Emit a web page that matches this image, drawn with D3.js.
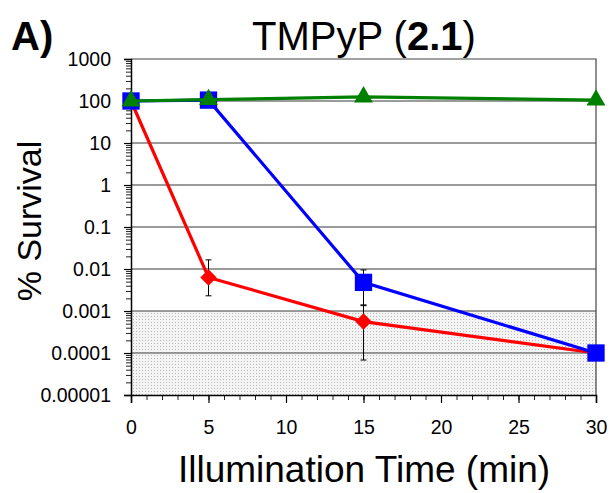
<!DOCTYPE html>
<html>
<head>
<meta charset="utf-8">
<script src="https://cdn.jsdelivr.net/npm/d3@7"></script>
<style>
  body { margin: 0; background: #fff; }
  svg { font-family: "Liberation Sans", Arial, sans-serif; }
</style>
</head>
<body>
<div id="chart"></div>
<script>
// data
let times = [0, 5, 15, 30];
let redValues = [100, 0.0063, 0.00056, 0.0001];
let redErrLow = [null, 0.0023, 0.000068, null];
let redErrHigh = [null, 0.0165, 0.00134, null];
let blueValues = [100, 105, 0.0048, 0.0001];
let blueErrLow = [null, null, 0.0014, null];
let blueErrHigh = [null, null, 0.0095, null];
let greenValues = [100, 108, 125, 105];
let yTickValues = [1000, 100, 10, 1, 0.1, 0.01, 0.001, 0.0001, 0.00001];
let yTickLabels = ['1000', '100', '10', '1', '0.1', '0.01', '0.001', '0.0001', '0.00001'];
let xTickValues = [0, 5, 10, 15, 20, 25, 30];

let width = 612, height = 493;
let plotLeft = 131, plotRight = 596, plotTop = 59, plotBottom = 395;

let svg = d3.select('#chart').append('svg')
    .attr('width', width)
    .attr('height', height);

let x = d3.scaleLinear().domain([0, 30]).range([plotLeft, plotRight]);
let y = d3.scaleLog().domain([0.00001, 1000]).range([plotBottom, plotTop]);

// dotted fill for the detection limit area
let defs = svg.append('defs');
let pat = defs.append('pattern')
    .attr('id', 'dots')
    .attr('patternUnits', 'userSpaceOnUse')
    .attr('width', 3).attr('height', 3);
pat.append('rect').attr('width', 3).attr('height', 3).attr('fill', '#f4f4f4');
pat.append('rect').attr('x', 1).attr('y', 1).attr('width', 1).attr('height', 1).attr('fill', '#b8b8b8');

svg.append('rect')
    .attr('x', x(0))
    .attr('y', y(0.001))
    .attr('width', x(30) - x(0))
    .attr('height', y(0.00001) - y(0.001))
    .attr('fill', 'url(#dots)');

// gridlines
svg.append('g')
    .selectAll('line')
    .data(yTickValues.filter(d => d < 1000 && d > 0.00001))
    .enter()
    .append('line')
    .attr('x1', x(0)).attr('x2', x(30))
    .attr('y1', d => y(d)).attr('y2', d => y(d))
    .attr('stroke', '#7a7a7a')
    .attr('stroke-width', 1.5);

// top and right border
svg.append('path')
    .attr('d', 'M' + x(0) + ',' + y(1000) + 'H' + x(30) + 'V' + y(0.00001))
    .attr('fill', 'none')
    .attr('stroke', '#444')
    .attr('stroke-width', 1.2);

// y axis with log minor ticks
let minorY = [];
for (let e = -5; e < 3; e++) {
  for (let m = 2; m <= 9; m++) minorY.push(m * Math.pow(10, e));
}
let yAxisMinor = d3.axisLeft(y).tickValues(minorY).tickSize(5).tickFormat('');
svg.append('g')
    .attr('transform', 'translate(' + plotLeft + ',0)')
    .call(yAxisMinor)
    .call(g => g.select('.domain').remove())
    .call(g => g.selectAll('line').attr('stroke', '#222'));

let yAxis = d3.axisLeft(y)
    .tickValues(yTickValues)
    .tickSize(7)
    .tickPadding(13)
    .tickFormat((d, i) => yTickLabels[i]);
svg.append('g')
    .attr('transform', 'translate(' + plotLeft + ',0)')
    .call(yAxis)
    .call(g => g.select('.domain').attr('stroke', '#000').attr('stroke-width', 1.5))
    .call(g => g.selectAll('line').attr('stroke', '#000').attr('stroke-width', 1.2))
    .call(g => g.selectAll('text').attr('font-size', 19.5).attr('fill', '#000')
        .attr('font-family', '"Liberation Sans", Arial, sans-serif'));

// x axis
let xAxisMinor = d3.axisBottom(x).tickValues(d3.range(0, 31, 1)).tickSize(5).tickFormat('');
svg.append('g')
    .attr('transform', 'translate(0,' + plotBottom + ')')
    .call(xAxisMinor)
    .call(g => g.select('.domain').remove())
    .call(g => g.selectAll('line').attr('stroke', '#222'));

let xAxis = d3.axisBottom(x).tickValues(xTickValues).tickSize(8).tickPadding(17);
svg.append('g')
    .attr('transform', 'translate(0,' + plotBottom + ')')
    .call(xAxis)
    .call(g => g.select('.domain').attr('stroke', '#000').attr('stroke-width', 1.5))
    .call(g => g.selectAll('line').attr('stroke', '#000').attr('stroke-width', 1.2))
    .call(g => g.selectAll('text').attr('font-size', 19.5).attr('fill', '#000')
        .attr('font-family', '"Liberation Sans", Arial, sans-serif'));

// error bars
function errorBars(lo, hi) {
  let rows = times.map((t, i) => ({ t: t, lo: lo[i], hi: hi[i] }))
      .filter(d => d.lo != null);
  let g = svg.append('g').attr('stroke', '#000').attr('stroke-width', 1);
  rows.forEach(d => {
    g.append('line').attr('x1', x(d.t)).attr('x2', x(d.t)).attr('y1', y(d.hi)).attr('y2', y(d.lo));
    g.append('line').attr('x1', x(d.t) - 3).attr('x2', x(d.t) + 3).attr('y1', y(d.hi)).attr('y2', y(d.hi));
    g.append('line').attr('x1', x(d.t) - 3).attr('x2', x(d.t) + 3).attr('y1', y(d.lo)).attr('y2', y(d.lo));
  });
}
errorBars(redErrLow, redErrHigh);
errorBars(blueErrLow, blueErrHigh);

let line = d3.line().x(d => x(d[0])).y(d => y(d[1]));

function series(vals, color, symbol, size, rotate) {
  let pts = times.map((t, i) => [t, vals[i]]);
  svg.append('path')
      .attr('d', line(pts))
      .attr('fill', 'none')
      .attr('stroke', color)
      .attr('stroke-width', 3.2);
  svg.append('g')
      .selectAll('path')
      .data(pts)
      .enter()
      .append('path')
      .attr('transform', d => 'translate(' + x(d[0]) + ',' + y(d[1]) + ') rotate(' + rotate + ')')
      .attr('d', d3.symbol().type(symbol).size(size))
      .attr('fill', color);
}

// red diamonds are squares turned 45 degrees
series(redValues, '#ff0000', d3.symbolSquare, 135, 45);
series(blueValues, '#0000ff', d3.symbolSquare, 300, 0);
series(greenValues, '#008000', d3.symbolTriangle, 155, 0);

// titles
let title = svg.append('text')
    .attr('x', 364).attr('y', 50)
    .attr('text-anchor', 'middle')
    .attr('font-size', 40)
    .attr('fill', '#000');
title.append('tspan').text('TMPyP (');
title.append('tspan').attr('font-weight', 'bold').text('2.1');
title.append('tspan').text(')');

svg.append('text')
    .attr('x', 11).attr('y', 50)
    .attr('font-size', 40)
    .attr('font-weight', 'bold')
    .text('A)');

svg.append('text')
    .attr('x', 364).attr('y', 482)
    .attr('text-anchor', 'middle')
    .attr('font-size', 37)
    .text('Illumination Time (min)');

svg.append('text')
    .attr('transform', 'translate(41,' + 221 + ') rotate(-90)')
    .attr('text-anchor', 'middle')
    .attr('font-size', 34)
    .text('% Survival');
</script>
</body>
</html>
